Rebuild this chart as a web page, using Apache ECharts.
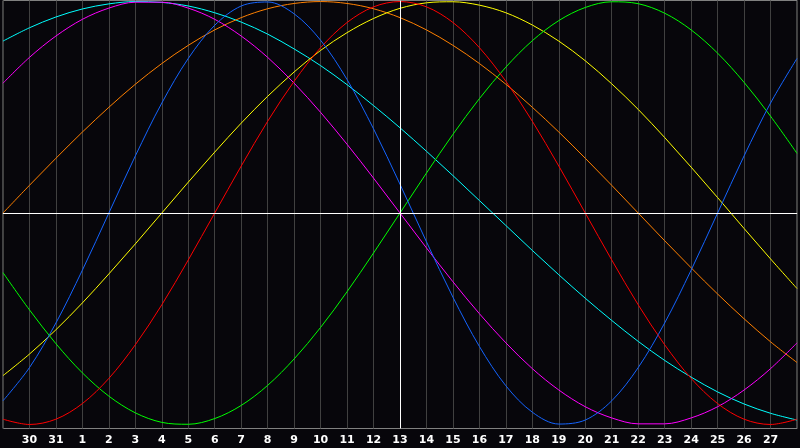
<!DOCTYPE html>
<html>
<head>
<meta charset="utf-8">
<script src="https://cdn.jsdelivr.net/npm/echarts@6/dist/echarts.min.js"></script>
<style>
html,body{margin:0;padding:0;background:#07060b;}
#chart{width:800px;height:448px;}
</style>
</head>
<body>
<div id="chart"></div>
<script>
var days = ['29','30','31','1','2','3','4','5','6','7','8','9','10','11','12','13','14','15','16','17','18','19','20','21','22','23','24','25','26','27','28'];
var centerDay = '13';

var blue23 = [-0.888,-0.731,-0.520,-0.270,0,0.270,0.520,0.731,0.888,0.979,0.998,0.942,0.817,0.631,0.398,0.136,-0.136,-0.398,-0.631,-0.817,-0.942,-0.998,-0.979,-0.888,-0.731,-0.520,-0.270,0,0.270,0.520,0.731];
var red28 = [-0.975,-1,-0.975,-0.901,-0.782,-0.623,-0.434,-0.222,0,0.222,0.434,0.623,0.782,0.901,0.975,1,0.975,0.901,0.782,0.623,0.434,0.222,0,-0.222,-0.434,-0.623,-0.782,-0.901,-0.975,-1,-0.975];
var green33 = [-0.282,-0.458,-0.618,-0.756,-0.866,-0.945,-0.990,-0.999,-0.972,-0.910,-0.815,-0.690,-0.541,-0.372,-0.189,0,0.189,0.372,0.541,0.690,0.815,0.910,0.972,0.999,0.990,0.945,0.866,0.756,0.618,0.458,0.282];
var magenta38 = [0.614,0.736,0.837,0.916,0.969,0.997,0.997,0.969,0.916,0.837,0.736,0.614,0.476,0.325,0.165,0,-0.165,-0.325,-0.476,-0.614,-0.736,-0.837,-0.916,-0.969,-0.997,-0.997,-0.969,-0.916,-0.837,-0.736,-0.614];
var yellow43 = [-0.769,-0.667,-0.552,-0.425,-0.288,-0.146,0,0.146,0.288,0.425,0.552,0.667,0.769,0.853,0.920,0.968,0.994,0.999,0.983,0.947,0.889,0.813,0.720,0.611,0.490,0.357,0.217,0.073,-0.073,-0.217,-0.357];
var orange48 = [0,0.131,0.259,0.383,0.5,0.609,0.707,0.793,0.866,0.924,0.966,0.991,1,0.991,0.966,0.924,0.866,0.793,0.707,0.609,0.5,0.383,0.259,0.131,0,-0.131,-0.259,-0.383,-0.5,-0.609,-0.707];
var cyan53 = [0.813,0.876,0.927,0.965,0.989,1.000,0.996,0.979,0.947,0.903,0.846,0.776,0.697,0.607,0.508,0.403,0.292,0.177,0.059,-0.059,-0.177,-0.292,-0.403,-0.508,-0.607,-0.697,-0.776,-0.846,-0.903,-0.947,-0.979];

var seriesDefs = [
  {name:'53', data:cyan53, color:'#00ffff'},
  {name:'48', data:orange48, color:'#ff8000'},
  {name:'43', data:yellow43, color:'#ffff00'},
  {name:'38', data:magenta38, color:'#ff00ff'},
  {name:'33', data:green33, color:'#00ff00'},
  {name:'28', data:red28, color:'#ff0000'},
  {name:'23', data:blue23, color:'#1464ff'}
];

var chart = echarts.init(document.getElementById('chart'), null, {renderer:'canvas'});
var series = seriesDefs.map(function(s){
  return {
    type:'line', name:s.name, data:s.data, smooth:0.333, showSymbol:false, symbol:'none',
    lineStyle:{color:s.color, width:1}, itemStyle:{color:s.color}, silent:true, z:3
  };
});
series.push({
  type:'line', data:[], silent:true, z:2,
  markLine:{
    silent:true, symbol:['none','none'], animation:false,
    label:{show:false},
    lineStyle:{color:'#ffffff', width:1, type:'solid'},
    data:[{xAxis:centerDay},{yAxis:0}]
  }
});

chart.setOption({
  animation:false,
  backgroundColor:'#07060b',
  grid:{left:0.5, top:0.5, right:0.5, bottom:19.5, show:true, borderColor:'#808080', borderWidth:1, backgroundColor:'transparent'},
  xAxis:{
    type:'category', data:days, boundaryGap:false,
    axisLine:{show:true, lineStyle:{color:'#808080', width:1}},
    axisTick:{show:false},
    splitLine:{show:true, interval:0, lineStyle:{color:'#404040', width:1}},
    axisLabel:{
      interval:0, hideOverlap:false, color:'#ffffff', fontFamily:'DejaVu Sans', fontWeight:'bold', fontSize:11, margin:6,
      formatter:function(v, i){ return (i===0 || i===days.length-1) ? '' : v; }
    }
  },
  yAxis:{
    type:'value', min:-1.019, max:1.005, show:true,
    axisLine:{show:false}, axisTick:{show:false}, axisLabel:{show:false}, splitLine:{show:false}
  },
  series:series
});
</script>
</body>
</html>
